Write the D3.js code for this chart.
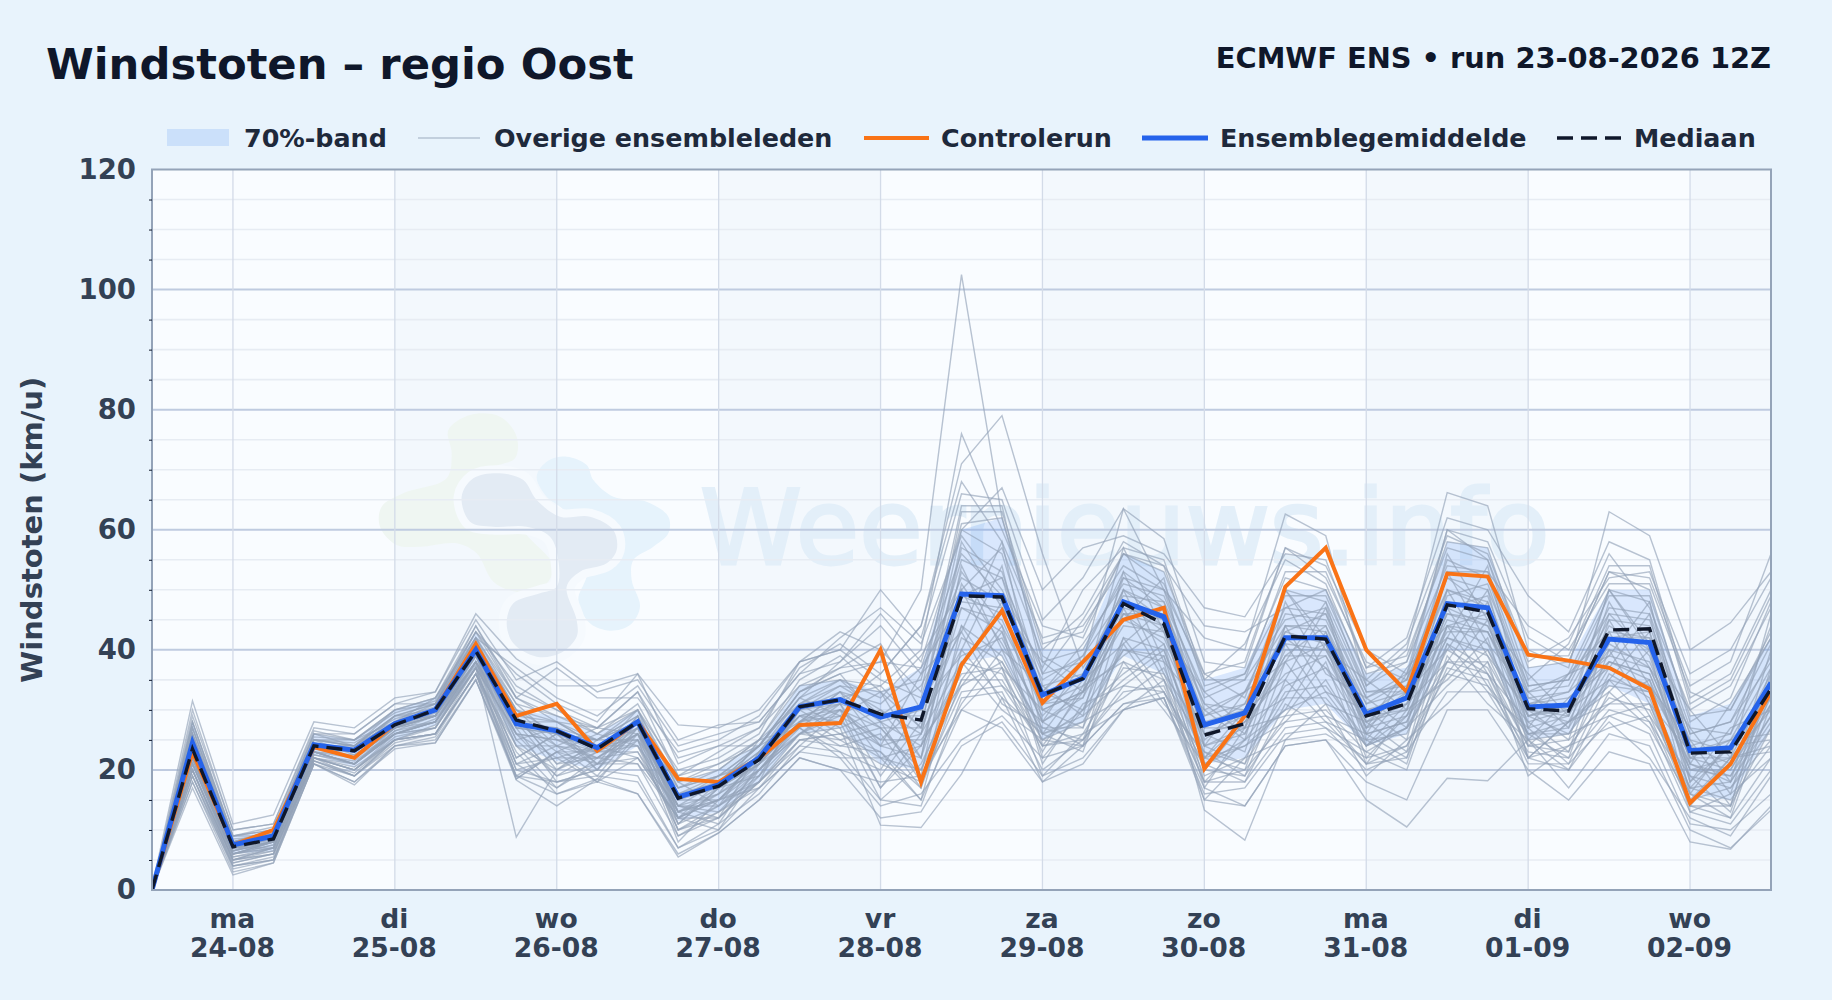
<!DOCTYPE html>
<html>
<head>
<meta charset="utf-8">
<script src="https://cdn.jsdelivr.net/npm/d3@7"></script>
<style>
  html, body { margin: 0; padding: 0; background: #e8f3fc; }
  svg { display: block; font-family: "DejaVu Sans", sans-serif; font-weight: bold; }
</style>
</head>
<body>
<div id="graph"></div>
<script>
// Data /////////////////////////////////////////////////////////////////////
const titleText = "Windstoten – regio Oost";
const runText = "ECMWF ENS • run 23-08-2026 12Z";
const yLabelText = "Windstoten (km/u)";
const watermarkText = "Weernieuws.info";
const dayNames = ["ma", "di", "wo", "do", "vr", "za", "zo", "ma", "di", "wo"];
const dayDates = ["24-08", "25-08", "26-08", "27-08", "28-08", "29-08", "30-08", "31-08", "01-09", "02-09"];
const legendLabels = ["70%-band", "Overige ensembleleden", "Controlerun", "Ensemblegemiddelde", "Mediaan"];

const controlRun = [0, 23, 7.5, 10, 23.8, 22, 27.7, 30, 41, 29, 31, 23.2, 28, 18.5, 18, 22, 27.5, 27.8, 40, 18, 37.5, 46.5, 31.2, 38, 45, 47, 20.2, 29, 50.5, 57, 40, 33, 52.7, 52.2, 39.2, 38.2, 37, 33.5, 14.5, 21, 33];
const ensembleMean = [0, 24.5, 7.5, 9, 24.2, 23.3, 27.7, 30, 40, 27.7, 26.5, 23.7, 28, 15.5, 17.5, 22, 30.5, 31.7, 28.8, 30.5, 49.3, 49, 32.5, 35.3, 48, 45.5, 27.5, 29.5, 42, 42, 29.3, 32, 47.7, 47, 30.5, 30.8, 41.8, 41.2, 23.2, 23.7, 34.5];
const ensembleMedian = [0, 23.5, 7.2, 8.5, 24, 23.2, 27.5, 30, 39.8, 28.3, 26.5, 23.5, 28, 15.3, 17.3, 21.7, 30.5, 31.7, 29.3, 28.3, 49, 48.8, 32.5, 35.2, 47.7, 44.3, 25.8, 27.7, 42.3, 41.8, 29, 31, 47.5, 46.3, 30.2, 29.8, 43.3, 43.5, 22.8, 23, 33.5];
const bandLow = [0, 20, 6, 6.5, 22.5, 20.5, 25, 27.5, 37, 24, 21.5, 20, 24, 11.5, 13, 18, 26, 27, 21, 20, 38, 39, 25, 28, 39, 36, 21, 22, 30, 31, 24, 26, 40, 40, 25, 26, 34, 31, 16, 15, 27];
const bandHigh = [0.5, 28, 9, 10, 26, 25, 30, 32, 43, 30, 29, 26, 30, 18, 20, 24.5, 34, 35, 33, 37, 60, 62, 40, 40, 56, 53, 35, 37, 50, 50, 36, 37, 58, 57, 37, 38, 50, 50, 29, 31, 42];

const members = [
  [0.2,27,8,9.5,25, 24.5,28.5,30.5,41.5,30, 28,25,29,17,19, 24,33,36,38,50, 102.5,62,38,40,52, 50,30,33,47,46, 32,36,52,50,34, 35,46,45,26,28, 38],
  [0.3,25,9,10,26, 25,30,31,44,33, 30,26,30,18,20, 25,34,35,34,40, 76,60,44,42,56, 53,36,32,50,48, 33,34,55,52,33, 36,50,48,24,26, 44],
  [0,22,6,8,24, 22,27,29,38,26, 25,22,27,13,15, 21,29,31,36,44, 71,79,56,37,48, 44,28,30,43,41, 28,30,46,45,29, 31,40,38,22,25, 32],
  [0,20,5,7,23, 21,26,28,37,8.8, 20,24,28,14,16, 20,28,30,24,26, 49,52,30,33,46, 44,24,26,40,40, 27,29,44,43,28, 30,38,36,20,22, 30],
  [0,24,7,9,24, 23,27,29,39,27, 26,23,26,12,15, 20,26,27,10.8,10.4, 19.3,32,18,24,31, 33,21,24,30,33, 24,27,38,38,26, 28,34,33,17,15, 24],
  [0.4,31.5,11,12.5,28, 27,32,33,46,38.5, 34,34,36,27.5,27, 30,38,40,50,42, 66,65,45,52,63.5, 58.5,38,37,57,54, 40,36,60,58,42, 38,53,52,34,38, 56],
  [0,18,4,5,22, 19,25,26,36,18.5, 23,26,24,10,12, 18,25,26,22,20, 34,38,25,28,40, 38,13.3,8.3,25,26, 22,24,38,36,22, 24,32,30,16,12, 22],
  [0,17,2.5,4.5,21, 17.5,24,24.5,35,18.3, 14,18.5,16,5.5,9.5, 15,22,20,18,19, 30,27,18,21,30, 32,17,14,24,25, 15,10.5,18.6,18.2,25, 17,26,24,10,7, 13.3],
  [0,29,10,11,27, 26,31,33,45,35, 38,33,35,25,27.5, 28,36,38,46,38, 60,67,50,57,59, 56,47,45.5,56,55, 37,42,62,60,49, 43,58,55,32,36, 50],
  [0,28,9,10.5,26, 24,29,31,43,34, 30,27,30,20,22, 26,38,43,40,33, 64,64,36,38,63.5, 50,42,40,62.6,59, 34,40,66.2,64,40, 37,63,59,40,44.5, 53],
  [0,26,8,9,25, 24,29,31,42,31, 29,26,31,19,21, 25,35,39,33,35, 61,62,40,46,58, 54,34,36,52,50, 36,38,58,57,37, 38,53,50,28,32, 48],
  [0,25,7.5,8.5,24.5, 23.5,28,30,41,30, 24,27,26,18,14, 23,32,29,33,27, 58,47,38,33,57, 43,33,27,50,40, 35,30,56,45,36, 29,50,40,30,22, 46],
  [0,24,7,8,23.5, 23,27,29.5,40,25, 27,20,29,12,18, 24,28,33,24,36, 43,58,28,38,45, 52,24,33,38,48, 26,36,42,54,27, 36,39,48,21,31, 42],
  [0,23,7,8.5,24, 22,27.5,30,39,29, 21,24,24,15,15, 18,31,27,30,22, 54,40,34,29,53, 38,30,25,48,36, 32,27,53,41,33, 27,48,37,27,18, 40],
  [0,23,6.5,8,23, 22.5,27,29,39,22, 26,21,29,11,17, 21,26,31,19,28, 40,54,26,35,41, 47,22,30,35,47, 25,33,40,50,25, 32,37,46,18,27, 30],
  [0,22,6,7,23, 21,26,28,38,28, 20,25,25,14,12, 23,29,25,27,19, 50,37,30,27,50, 36,26,23,44,33, 30,25,50,39,30, 25,45,34,25,16, 37],
  [0,21,6,7.5,22.5, 21,26,28,37.5,21, 24,19,27,10,14, 18,24,30,17,24, 37,48,24,33,39, 44,20,28,32,43, 24,31,38,48,24, 30,35,43,16,25, 26],
  [0,21,5.5,6.5,22, 20.5,25,27.5,37,26, 19,23,23,13,11, 21,28,24,26,17, 44,34,28,24,47, 35,24,21,41,31, 28,23,47,36,28, 23,43,31,23,14, 35],
  [0,20,5,6,22, 20,25,27,37,19, 23,18,26,9,13, 17,23,28,15,21, 35,44,22,30,36, 41,18,25,30,41, 22,29,36,45,22, 28,33,40,14,22, 24],
  [0,19,4.5,6,21.5, 19,24.5,26,36,24, 17,22,21,12,10, 20,27,22,22,15, 40,32,26,23,42, 33,22,20,38,29, 26,22,44,34,26, 22,40,29,19,13, 33],
  [0,30,10,11,26.5, 25,30,32,44,32, 28,27,33,22,24, 27,37,41,36,44, 68,58,42,44,54, 50,36,38,57,52, 38,35,60,55,38, 42,52,53,36,40, 52],
  [0,28,8.5,9,25, 24,28,30,42,28, 27,25,30,17,19, 24,33,36,28,30, 60,56,34,36,50, 47,29,31,46,45, 31,33,50,48,30, 29,42,42,22,20, 31],
  [0,27,8,8,24, 24,29,29,41,27, 26,25,28,15,17, 22,31,32,27,27, 57,53,33,39,49, 48,27,27,44,44, 30,32,48,46,29, 30,44,40,20,19, 29],
  [0,26,7.5,9,24, 23,28,30,40,29, 28,24,27,14,18, 23,30,33,31,37, 48,47,31,34,47, 45,31,30,41,40, 29,34,47,44,32, 33,39,37,21,18, 28],
  [0,25,7,8,25, 22.5,27,30,40,26, 25,23,28,13,17, 21,30,31,29,34, 47,45,30,33,46, 46,26,28,39,39, 28,31,45,43,31, 32,38,36,19,17, 27],
  [0,24,6.5,9,23, 22,27,29,39,28, 24,22,26,15,19, 22,29,30,25,25, 34,43,21,31,34, 39,17,27,29,38, 21,30,35,42,22, 28,31,35,13,16, 22],
  [0,23,6,8,23, 21,26.5,28,38,21, 22,24,22,12,16, 25,27,23,20,31, 43,31,27,25,41, 31,23,19,35,28, 25,21,41,33,27, 21,35,28,17,24, 25],
  [0,22,5.5,7,22.5, 21.5,26,28,38,27, 18,20,27,11,14, 19,30,26,28,18, 31,40,26,28,32, 37,22,24,28,35, 24,27,34,40,26, 26,29,31,16,14, 36],
  [0,21.5,5,6.5,22, 20,25.5,27,37,18.5, 23,21,22,14,13, 18,26,29,17,26, 38,30,25,24,38, 30,21,18,31,27, 23,20,39,31,25, 20,33,27,15,22, 23],
  [0,20,4,5.5,21.5, 19,25,26,36,23, 16,18.5,25,8,15, 17,25,24,23,15, 30,37,19,26,30, 35,15,22,25,31, 19,25,31,38,19, 24,27,29,14,12, 31],
  [0,26,8,10,25.5, 25,29.5,31.5,43,36, 31,28,36,21,24, 24,33,37,41,30, 63,63,41,43,56, 51,35,35,53,53, 37,39,57,55,35, 41,56,47,30,34, 47],
  [0,27,9,10,25, 24,30,32,43,32, 37,32,32,23,25, 29,38,40,35,32, 55,52,36,45,56, 54,44,43,47,50, 33,33,53,53,44, 40,51,51,33,30, 42],
  [0,25,8,9,24, 24,28,31,41,30, 26,25,29,15,18, 24,32,38,44,36, 52,48,33,41,51, 49,32,35,45,47, 32,35,50,47,33, 34,47,46,27,26, 39],
  [0,23,7,9.5,23.5, 23,28,29,40,28, 28,24,25,17,20, 25,31,35,29,29, 53,44,31,32,45, 42,27,31,43,46, 28,33,47,49,30, 36,43,42,25,23, 36],
  [0,24,6.5,8,24.5, 22,27,30,39,24, 24,23,30,13,16, 21,30,34,33,22, 51,41,29,36,48, 43,25,30,50,42, 29,30,49,51,32, 30,50,41,24,21, 34],
  [0,22,6,7.5,24, 22,26,28.5,38,29, 21,22,26,14,14, 20,28,29,25,31, 39,42,28,32,52, 47,31,26,39,44, 27,37,44,46,27, 29,46,39,18,24, 33],
  [0,23,7,7,23, 21,27,29,38,22, 26,20,28,12,15, 22,27,32,34,27, 44,39,26,29,35, 40,22,28,36,39, 26,28,42,40,29, 26,37,34,21,19, 31],
  [0,21,6,8,22, 21,26,27,37,20, 22,22,23,11,17, 19,28,31,22,24, 36,37,23,34,38, 35,19,22,33,34, 25,26,41,37,24, 23,36,32,15,17, 25],
  [0,20,5,7,22, 20,25,26,36,21, 17,21,21,9,12, 19,26,25,21,18, 33,34,24,25,33, 34,18,20,28,29, 21,24,36,34,23, 22,30,28,13,11, 20],
  [0,19,4,5,21, 19,24,25,35,19, 18,20,19,7,10, 17,23,22,14,16, 25,29,22,24,31, 32,16,17,26,27, 20,23,33,33,22, 20,29,26,11,10, 16],
  [0,28,9,9,26, 26,31,31,42,37, 32,29,34,24,26, 28,36,42,47,41, 59,50,37,50,57, 55,35,41,55,51, 35,41,59,56,39, 39,54,54,31,35, 49],
  [0,26,8,10,25, 25,28,32,42,32, 29,27,33,19,23, 27,34,37,38,37, 56,49,35,39,53, 48,33,36,49,49, 34,38,54,53,34, 35,49,49,29,30, 43],
  [0,25,7,8,24, 23,29,30,41,31, 25,25,28,18,21, 24,32,35,32,39, 50,57,39,35,50, 45,29,33,44,43, 31,35,52,47,31, 33,45,44,26,28, 41],
  [0,24,7.5,9,24, 23,28,29,40,28, 23,23,27,16,18, 23,31,34,30,26, 49,46,33,30,46, 41,26,29,42,37, 30,31,46,44,29, 31,42,43,23,25, 37],
  [0,23,6.5,8,23.5, 22,27,28,39,27, 27,21,26,16,19, 21,28,33,28,24, 47,43,28,33,44, 43,24,27,38,41, 27,32,43,43,30, 28,41,37,22,22, 35],
  [0,22,6,7,23, 21,26.5,29,38,24, 20,23,24,13,15, 22,29,28,24,22, 42,38,27,27,42, 40,21,25,34,37, 26,28,44,41,26, 27,38,35,20,20, 32],
  [0,21,5,6,22, 20,26,27,38,25, 19,21,25,10,13, 20,26,30,27,20, 38,36,25,30,40, 39,23,21,32,32, 24,29,42,39,25, 26,35,33,17,18, 29],
  [0,20,4.5,6,21.5, 19.5,25,26,37,26, 22,18,22,12,12, 18,25,26,23,17, 35,35,24,26,37, 36,20,19,29,30, 23,27,40,36,24, 25,31,31,14,14, 27],
  [0,19,3.5,5,21, 18,24,25.5,36,20, 18,19,18,7,11, 16,24,23,15,14, 32,33,20,25,34, 33,18,18,27,28, 21,22,37,35,21, 21,28,22,12,9, 19],
  [0,18,3,4.5,21, 18,23.5,24.5,35,19, 16,18,16,6,9.5, 15,22,20,12,13, 24,28,19,22,30, 32,15,14,24,25, 18,15,30,30,20, 15,23,21,8,6.8, 14]
];

// Constants ////////////////////////////////////////////////////////////////
const svgWidth = 1832;
const svgHeight = 1000;
const plot = { left: 152, right: 1771, top: 169.5, bottom: 890 };
const startTime = Date.UTC(2026, 7, 23, 12);
const hour = 3600 * 1000;
const timeOf = i => new Date(startTime + i * 6 * hour);
const midnights = dayNames.map((d, i) => new Date(startTime + (12 + i * 24) * hour));

const x = d3.scaleUtc()
  .domain([timeOf(0), timeOf(40)])
  .range([plot.left, plot.right]);

const y = d3.scaleLinear()
  .domain([0, 120])
  .range([plot.bottom, plot.top]);

const line = d3.line()
  .x((d, i) => x(timeOf(i)))
  .y(d => y(d));

// Containers ///////////////////////////////////////////////////////////////
const svg = d3.select("#graph")
  .append("svg")
  .attr("width", svgWidth)
  .attr("height", svgHeight);

svg.append("rect")
  .attr("width", svgWidth)
  .attr("height", svgHeight)
  .attr("fill", "#e8f3fc");

svg.append("defs")
  .append("clipPath")
  .attr("id", "plotClip")
  .append("rect")
  .attr("x", plot.left)
  .attr("y", plot.top)
  .attr("width", plot.right - plot.left)
  .attr("height", plot.bottom - plot.top);

const chart = svg.append("g").attr("clip-path", "url(#plotClip)");

chart.append("rect")
  .attr("x", plot.left)
  .attr("y", plot.top)
  .attr("width", plot.right - plot.left)
  .attr("height", plot.bottom - plot.top)
  .attr("fill", "#f9fcff");

// Day shading, every other day
chart.selectAll(".dayBand")
  .data(midnights.filter((d, i) => i % 2 === 1))
  .join("rect")
  .attr("class", "dayBand")
  .attr("x", d => x(d))
  .attr("y", plot.top)
  .attr("width", x(midnights[1]) - x(midnights[0]))
  .attr("height", plot.bottom - plot.top)
  .attr("fill", "#f3f8fd");

// Watermark ////////////////////////////////////////////////////////////////
drawLogo(chart);

chart.append("text")
  .attr("x", 700)
  .attr("y", 564)
  .attr("font-size", 103)
  .attr("font-weight", "normal")
  .attr("fill", "#e3eff9")
  .attr("stroke", "#e3eff9")
  .attr("stroke-width", 3)
  .text(watermarkText);

// Grid /////////////////////////////////////////////////////////////////////
const minorValues = d3.range(5, 120, 5).filter(d => d % 20 !== 0);
const majorValues = d3.range(20, 120, 20);

chart.selectAll(".minorGrid")
  .data(minorValues)
  .join("line")
  .attr("class", "minorGrid")
  .attr("x1", plot.left)
  .attr("x2", plot.right)
  .attr("y1", d => y(d))
  .attr("y2", d => y(d))
  .attr("stroke", "#e7ecf3")
  .attr("stroke-width", 1.6);

chart.selectAll(".majorGrid")
  .data(majorValues)
  .join("line")
  .attr("class", "majorGrid")
  .attr("x1", plot.left)
  .attr("x2", plot.right)
  .attr("y1", d => y(d))
  .attr("y2", d => y(d))
  .attr("stroke", "#bfcbe0")
  .attr("stroke-width", 2);

chart.selectAll(".dayGrid")
  .data(midnights)
  .join("line")
  .attr("class", "dayGrid")
  .attr("x1", d => x(d))
  .attr("x2", d => x(d))
  .attr("y1", plot.top)
  .attr("y2", plot.bottom)
  .attr("stroke", "#d3dbe8")
  .attr("stroke-width", 1.3);

// Series ///////////////////////////////////////////////////////////////////
const bandArea = d3.area()
  .x((d, i) => x(timeOf(i)))
  .y0((d, i) => y(bandLow[i]))
  .y1(d => y(d));

chart.append("path")
  .attr("d", bandArea(bandHigh))
  .attr("fill", "#3b82f6")
  .attr("fill-opacity", 0.17);

chart.selectAll(".member")
  .data(members)
  .join("path")
  .attr("class", "member")
  .attr("d", line)
  .attr("fill", "none")
  .attr("stroke", "#94a3b8")
  .attr("stroke-opacity", 0.65)
  .attr("stroke-width", 1.4);

chart.append("path")
  .attr("d", line(controlRun))
  .attr("fill", "none")
  .attr("stroke", "#f97316")
  .attr("stroke-width", 4);

chart.append("path")
  .attr("d", line(ensembleMean))
  .attr("fill", "none")
  .attr("stroke", "#2563eb")
  .attr("stroke-width", 5);

chart.append("path")
  .attr("d", line(ensembleMedian))
  .attr("fill", "none")
  .attr("stroke", "#0f172a")
  .attr("stroke-width", 3.4)
  .attr("stroke-dasharray", "16 8");

// Frame ////////////////////////////////////////////////////////////////////
svg.append("rect")
  .attr("x", plot.left)
  .attr("y", plot.top)
  .attr("width", plot.right - plot.left)
  .attr("height", plot.bottom - plot.top)
  .attr("fill", "none")
  .attr("stroke", "#94a3b8")
  .attr("stroke-width", 2);

// Axes /////////////////////////////////////////////////////////////////////
const yAxis = svg.append("g")
  .attr("transform", `translate(${plot.left}, 0)`)
  .call(d3.axisLeft(y).tickValues(majorValues.concat([0, 120])).tickSize(0).tickPadding(16));

yAxis.select(".domain").remove();
yAxis.selectAll("text")
  .attr("font-size", 27.5)
  .attr("font-family", "DejaVu Sans")
  .attr("font-weight", "bold")
  .attr("fill", "#334155");

svg.append("g")
  .attr("transform", `translate(${plot.left}, 0)`)
  .call(d3.axisLeft(y).tickValues(minorValues).tickSize(3).tickFormat(""))
  .call(g => g.select(".domain").remove())
  .selectAll("line")
  .attr("stroke", "#0f172a");

const xAxis = svg.append("g")
  .attr("transform", `translate(0, ${plot.bottom})`)
  .call(d3.axisBottom(x).tickValues(midnights).tickSize(0).tickFormat(""));

xAxis.select(".domain").remove();

const xLabel = xAxis.selectAll(".tick text")
  .attr("fill", "#334155")
  .attr("font-size", 26.6)
  .attr("font-family", "DejaVu Sans")
  .attr("font-weight", "bold")
  .attr("y", 0)
  .attr("dy", 0);

xLabel.append("tspan")
  .attr("x", -1)
  .attr("y", 38)
  .text((d, i) => dayNames[i]);

xLabel.append("tspan")
  .attr("x", -1)
  .attr("y", 67)
  .text((d, i) => dayDates[i]);

svg.append("text")
  .attr("transform", `translate(42, ${(plot.top + plot.bottom) / 2}) rotate(-90)`)
  .attr("text-anchor", "middle")
  .attr("font-size", 29)
  .attr("fill", "#334155")
  .text(yLabelText);

// Titles ///////////////////////////////////////////////////////////////////
svg.append("text")
  .attr("x", 46)
  .attr("y", 79)
  .attr("font-size", 43.3)
  .attr("fill", "#0f172a")
  .text(titleText);

svg.append("text")
  .attr("x", plot.right)
  .attr("y", 68)
  .attr("text-anchor", "end")
  .attr("font-size", 28.85)
  .attr("fill", "#0f172a")
  .text(runText);

// Legend ///////////////////////////////////////////////////////////////////
const legendY = 138;
const legendStart = [167, 418, 864, 1142, 1557];
const legendEnd = [229, 480, 929, 1208, 1622];
const legendText = [244, 494, 941, 1220, 1634];

svg.selectAll(".legendText")
  .data(legendLabels)
  .join("text")
  .attr("class", "legendText")
  .attr("x", (d, i) => legendText[i])
  .attr("y", legendY + 8.5)
  .attr("font-size", 25.4)
  .attr("fill", "#1e293b")
  .text(d => d);

svg.append("rect")
  .attr("x", legendStart[0])
  .attr("y", legendY - 9)
  .attr("width", legendEnd[0] - legendStart[0])
  .attr("height", 17)
  .attr("fill", "#3b82f6")
  .attr("fill-opacity", 0.17);

const legendLines = [
  { i: 1, stroke: "#94a3b8", width: 1.5, opacity: 0.6, dash: null },
  { i: 2, stroke: "#f97316", width: 4, opacity: 1, dash: null },
  { i: 3, stroke: "#2563eb", width: 5, opacity: 1, dash: null },
  { i: 4, stroke: "#0f172a", width: 3.4, opacity: 1, dash: "16 8" }
];

svg.selectAll(".legendLine")
  .data(legendLines)
  .join("line")
  .attr("class", "legendLine")
  .attr("x1", d => legendStart[d.i])
  .attr("x2", d => legendEnd[d.i])
  .attr("y1", legendY)
  .attr("y2", legendY)
  .attr("stroke", d => d.stroke)
  .attr("stroke-width", d => d.width)
  .attr("stroke-opacity", d => d.opacity)
  .attr("stroke-dasharray", d => d.dash);

// FUNCTIONS ////////////////////////////////////////////////////////////////
function drawLogo(container) {
  const greenShape = [[265,120],[330,75],[420,80],[470,140],[465,205],[400,235],[390,300],[500,435],[580,530],[550,590],[470,605],[400,575],[350,490],[290,460],[180,470],[110,465],[60,410],[65,350],[130,310],[260,265],[275,190]];
  const blueShape = [[530,260],[560,215],[620,200],[680,225],[700,270],[760,320],[860,335],[925,380],[925,430],[880,470],[820,510],[815,570],[840,650],[810,705],[750,722],[690,700],[655,630],[680,560],[700,450],[600,350],[560,320]];
  const greyShape = [[305,320],[340,265],[420,250],[490,270],[530,330],[600,380],[690,380],[760,420],[770,480],[740,520],[660,545],[620,590],[650,690],[650,740],[600,790],[530,800],[460,760],[440,700],[460,640],[540,610],[590,590],[595,510],[570,440],[500,410],[400,410],[330,395]];

  const outline = d3.line()
    .x(d => 360 + d[0] / 3)
    .y(d => 390 + d[1] / 3)
    .curve(d3.curveCatmullRomClosed);

  const logo = container.append("g");

  logo.append("path").attr("d", outline(greenShape)).attr("fill", "#eff6f2");
  logo.append("path").attr("d", outline(blueShape)).attr("fill", "#e6f3fc");
  logo.append("path")
    .attr("d", outline(greyShape))
    .attr("fill", "#e3ebf4")
    .attr("stroke", "#f6fafe")
    .attr("stroke-width", 16)
    .attr("stroke-linejoin", "round")
    .attr("paint-order", "stroke");
}
</script>
</body>
</html>
